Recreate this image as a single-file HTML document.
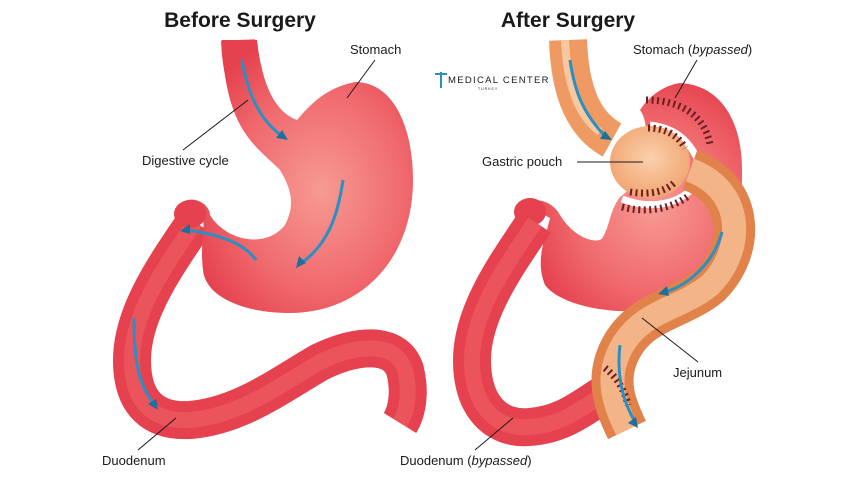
<!DOCTYPE html>
<html><head><meta charset="utf-8"><style>
html,body{margin:0;padding:0;background:#fff;}
svg{display:block;}
text{font-family:"Liberation Sans","DejaVu Sans",sans-serif;fill:#1a1a1a;}
</style></head><body>
<svg width="860" height="480" viewBox="0 0 860 480" xmlns="http://www.w3.org/2000/svg">
<defs>
<radialGradient id="st" cx="0.6" cy="0.55" r="0.6"><stop offset="0" stop-color="#f79a92"/><stop offset="0.6" stop-color="#f06a6e"/><stop offset="1" stop-color="#e5414e"/></radialGradient>
<radialGradient id="po" cx="0.5" cy="0.45" r="0.6"><stop offset="0" stop-color="#fbd0ad"/><stop offset="1" stop-color="#f0a26c"/></radialGradient>
</defs>

<text x="240" y="27" font-size="21" font-weight="bold" text-anchor="middle">Before Surgery</text>
<text x="568" y="27" font-size="21" font-weight="bold" text-anchor="middle">After Surgery</text>

<!-- LEFT -->
<g fill="none" stroke-linecap="butt">
<path d="M195 222 C170 260 132 310 132 360 C132 405 155 422 190 420 C240 416 280 385 320 362 C355 345 395 340 405 370 C410 390 408 410 400 423" stroke="#e5414e" stroke-width="38"/>
<path d="M195 222 C170 260 132 310 132 360 C132 405 155 422 190 420 C240 416 280 385 320 362 C355 345 395 340 405 370 C410 390 408 410 400 423" stroke="#f2706f" stroke-width="16" stroke-opacity="0.4"/>
<path d="M238 40 C240 90 255 120 290 140" stroke="#e5414e" stroke-width="34"/>
<path d="M236 40 C238 80 250 110 280 132" stroke="#f79a85" stroke-width="6" stroke-opacity="0.6"/>
</g>
<path d="M257 40 C262 85 275 112 297 120 C310 105 325 88 355 82 C395 82 413 130 413 180 C413 260 360 313 290 313 C240 313 205 295 203 270 C200 245 205 230 203 218 L183 202 C195 195 210 205 210 215 C225 240 265 250 285 225 C295 205 292 190 280 170 C255 145 225 130 222 40 Z" fill="url(#st)"/>
<ellipse cx="190" cy="214" rx="16" ry="14" fill="#e5414e"/>
<g fill="none" stroke="#2a8fc4" stroke-width="3">
<path d="M242 60 C248 95 260 120 282 136"/>
<path d="M343 180 C338 215 328 245 300 264"/>
<path d="M256 260 C245 245 225 235 186 230"/>
<path d="M134 318 C134 360 138 385 155 405"/>
</g>
<g fill="#1f6f9c">
<path d="M288 140 l-12 -2 l6 -8z"/><path d="M296 268 l3 -12 l7 7z"/><path d="M180 231 l10 -7 l0 10z"/><path d="M158 410 l-10 -6 l8 -5z"/>
</g>

<!-- RIGHT -->
<path d="M620 197 C640 185 655 130 640 110 C650 95 665 85 680 83 C720 85 742 120 742 170 C742 210 740 235 730 250 L650 310 C610 315 560 305 545 285 C535 260 545 240 550 218 L523 203 C540 195 555 205 560 215 C575 240 600 245 603 237 C610 225 610 210 620 197 Z" fill="url(#st)"/>
<ellipse cx="530" cy="212" rx="16" ry="14" fill="#e5414e"/>
<g fill="none">
<path d="M535 222 C510 260 472 310 472 360 C472 405 495 430 530 427 C570 424 590 400 620 385" stroke="#e5414e" stroke-width="38"/>
<path d="M535 222 C510 260 472 310 472 360 C472 405 495 430 530 427 C570 424 590 400 620 385" stroke="#f2706f" stroke-width="16" stroke-opacity="0.4"/>
<path d="M650 125 C675 128 690 140 700 165 M622 199 C650 210 680 205 695 185" stroke="#fff" stroke-width="7"/>
<path d="M690 170 C745 190 745 250 710 285 C680 310 640 310 620 350 C605 380 615 405 627 430" stroke="#e0824a" stroke-width="42"/>
<path d="M690 170 C745 190 745 250 710 285 C680 310 640 310 620 350 C605 380 615 405 627 430" stroke="#f3b487" stroke-width="24"/>
<path d="M568 40 C570 95 585 125 612 140" stroke="#ee9a62" stroke-width="38"/>
<path d="M565 40 C567 85 578 115 600 132" stroke="#f8c8a0" stroke-width="8"/>
</g>
<ellipse cx="650" cy="162" rx="40" ry="36" fill="url(#po)"/>
<g fill="none" stroke="#6b1f22" stroke-width="2.5" stroke-dasharray="2 3.5">
<path d="M646 100 C680 100 705 115 710 145" stroke-width="7"/>
<path d="M648 128 C665 128 678 135 685 148" stroke-width="7"/>
<path d="M630 192 C650 195 665 192 675 182" stroke-width="7"/>
<path d="M622 207 C645 213 670 210 690 195" stroke-width="7"/>
<path d="M605 368 C618 378 625 392 628 405" stroke-width="7"/>
</g>
<g fill="none" stroke="#2a8fc4" stroke-width="3">
<path d="M570 60 C575 95 585 115 605 136"/>
<path d="M722 232 C715 260 690 285 665 292"/>
<path d="M620 345 C617 370 620 395 634 420"/>
</g>
<g fill="#1f6f9c"><path d="M612 140 l-12 -1 l5 -8z"/><path d="M658 294 l9 -8 l2 10z"/><path d="M638 428 l-10 -5 l8 -6z"/></g>

<!-- labels -->
<g font-size="13">
<text x="350" y="54">Stomach</text>
<text x="142" y="165">Digestive cycle</text>
<text x="102" y="465">Duodenum</text>
<text x="633" y="54">Stomach (<tspan font-style="italic">bypassed</tspan>)</text>
<text x="482" y="166">Gastric pouch</text>
<text x="673" y="377">Jejunum</text>
<text x="400" y="465">Duodenum (<tspan font-style="italic">bypassed</tspan>)</text>
</g>
<g stroke="#1a1a1a" stroke-width="1">
<line x1="375" y1="60" x2="347" y2="98"/>
<line x1="183" y1="150" x2="248" y2="100"/>
<line x1="138" y1="450" x2="176" y2="418"/>
<line x1="697" y1="60" x2="675" y2="98"/>
<line x1="577" y1="162" x2="643" y2="162"/>
<line x1="698" y1="362" x2="642" y2="318"/>
<line x1="475" y1="450" x2="513" y2="418"/>
</g>

<!-- logo -->
<g>
<path d="M435 74 h12 M441 72 v16" stroke="#2a8fc4" stroke-width="2"/>
<text x="448" y="83" font-size="9.5" fill="#2a8fc4" letter-spacing="1.3">MEDICAL CENTER</text>
<text x="478" y="90" font-size="3.5" fill="#777" letter-spacing="1">TURKEY</text>
</g>
</svg>
</body></html>
